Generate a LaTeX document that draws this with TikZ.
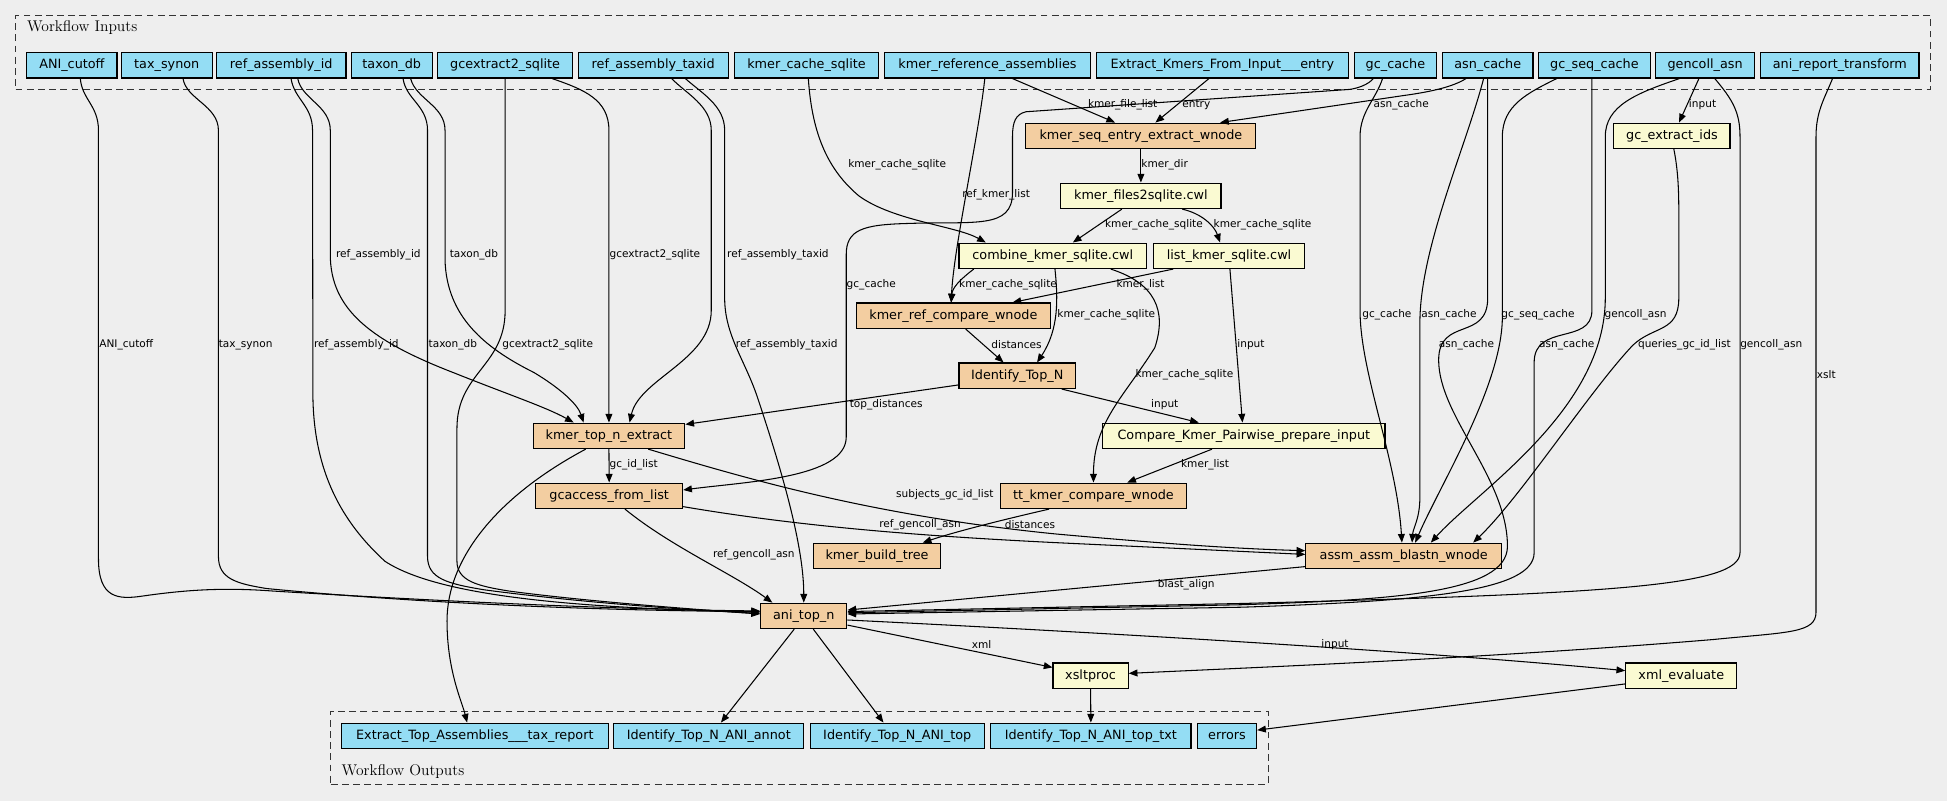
\documentclass[tikz,border=0pt]{standalone}
\usepackage{fontspec}
\newfontfamily\dvs{DejaVu Sans}
\usetikzlibrary{arrows.meta}

\definecolor{bg}{HTML}{EEEEEE}
\definecolor{inblue}{HTML}{94DDF4}
\definecolor{steporange}{HTML}{F3CEA1}
\definecolor{subyellow}{HTML}{FAFAD2}

\tikzset{
  box/.style={draw=black, line width=0.9pt, inner sep=0pt, minimum height=20.5pt,
              font=\dvs\fontsize{10.3}{12}\selectfont},
  io/.style={box, fill=inblue},
  stp/.style={box, fill=steporange},
  sub/.style={box, fill=subyellow},
  cluster/.style={draw=black!80, line width=0.85pt, dash pattern=on 5.5pt off 3.5pt, inner sep=0pt},
  ctitle/.style={font=\fontsize{12.5}{14}\selectfont, inner sep=0pt, anchor=west},
  lbl/.style={font=\dvs\fontsize{8.5}{10}\selectfont, inner sep=0pt, anchor=west},
  edge/.style={draw=black, line width=0.85pt, -{Triangle[length=7pt,width=5.5pt]}},
}

\begin{document}
\begin{tikzpicture}[x=1pt,y=-1pt]
\fill[bg] (0,0) rectangle (1568,645);
\useasboundingbox (0,0) rectangle (1568,645);

% clusters
\node[cluster, minimum width=1542.4pt, minimum height=59.1pt] (cin) at (783.8,42.15) {};
\node[ctitle] (cintitle) at (21.6,22.3) {Workflow Inputs};
\node[cluster, minimum width=754.9pt, minimum height=58.6pt] (cout) at (643.75,602.4) {};
\node[ctitle] (couttitle) at (275,621.5) {Workflow Outputs};

% workflow inputs
\node[io, minimum width=72.6pt]  (in_ani)     at (57.9,52.6)   {ANI\_cutoff};
\node[io, minimum width=73pt]    (in_tax)     at (134.3,52.6)  {tax\_synon};
\node[io, minimum width=104.2pt] (in_refid)   at (226.5,52.6)  {ref\_assembly\_id};
\node[io, minimum width=65pt]    (in_taxdb)   at (315.5,52.6)  {taxon\_db};
\node[io, minimum width=108.9pt] (in_gcx)     at (406.8,52.6)  {gcextract2\_sqlite};
\node[io, minimum width=120.8pt] (in_taxid)   at (526,52.6)    {ref\_assembly\_taxid};
\node[io, minimum width=116pt]   (in_kcache)  at (649.5,52.6)  {kmer\_cache\_sqlite};
\node[io, minimum width=166pt]   (in_kref)    at (795.3,52.6)  {kmer\_reference\_assemblies};
\node[io, minimum width=202.8pt] (in_entry)   at (984.4,52.6)  {Extract\_Kmers\_From\_Input\_\_\_entry};
\node[io, minimum width=66.6pt]  (in_gccache) at (1123.8,52.6) {gc\_cache};
\node[io, minimum width=73pt]    (in_asn)     at (1198.1,52.6) {asn\_cache};
\node[io, minimum width=90pt]    (in_gcseq)   at (1284,52.6)   {gc\_seq\_cache};
\node[io, minimum width=79.3pt]  (in_gencoll) at (1373.2,52.6) {gencoll\_asn};
\node[io, minimum width=127.4pt] (in_xform)   at (1481.7,52.6) {ani\_report\_transform};

% steps
\node[stp, minimum width=185.2pt] (s_extract) at (918.8,109.4)  {kmer\_seq\_entry\_extract\_wnode};
\node[sub, minimum width=93.5pt]  (s_gcids)   at (1346.5,109.4) {gc\_extract\_ids};
\node[sub, minimum width=129pt]   (s_files)   at (918.8,157.7)  {kmer\_files2sqlite.cwl};
\node[sub, minimum width=151pt]   (s_combine) at (847.8,206)    {combine\_kmer\_sqlite.cwl};
\node[sub, minimum width=122.2pt] (s_list)    at (989.8,206)    {list\_kmer\_sqlite.cwl};
\node[stp, minimum width=156.4pt] (s_refcmp)  at (767.8,254.3)  {kmer\_ref\_compare\_wnode};
\node[stp, minimum width=93.8pt]  (s_topn)    at (819.2,302.6)  {Identify\_Top\_N};
\node[stp, minimum width=122.2pt] (s_topext)  at (490.4,351)    {kmer\_top\_n\_extract};
\node[sub, minimum width=227.3pt] (s_prep)    at (1001.7,351)   {Compare\_Kmer\_Pairwise\_prepare\_input};
\node[stp, minimum width=118.3pt] (s_gcacc)   at (490.6,399.3)  {gcaccess\_from\_list};
\node[stp, minimum width=150.3pt] (s_tt)      at (880.6,399.3)  {tt\_kmer\_compare\_wnode};
\node[stp, minimum width=102.5pt] (s_tree)    at (706.3,447.7)  {kmer\_build\_tree};
\node[stp, minimum width=157.7pt] (s_blast)   at (1130.5,447.7) {assm\_assm\_blastn\_wnode};
\node[stp, minimum width=69.5pt]  (s_ani)     at (647.3,496)    {ani\_top\_n};
\node[sub, minimum width=60.5pt]  (s_xslt)    at (878.3,544.2)  {xsltproc};
\node[sub, minimum width=89.5pt]  (s_xmle)    at (1354,544.2)   {xml\_evaluate};

% workflow outputs
\node[io, minimum width=214.7pt] (o_tax)   at (382.4,592.6) {Extract\_Top\_Assemblies\_\_\_tax\_report};
\node[io, minimum width=153pt]   (o_annot) at (570.8,592.6) {Identify\_Top\_N\_ANI\_annot};
\node[io, minimum width=140.2pt] (o_top)   at (722.6,592.6) {Identify\_Top\_N\_ANI\_top};
\node[io, minimum width=161.3pt] (o_txt)   at (878.5,592.6) {Identify\_Top\_N\_ANI\_top\_txt};
\node[io, minimum width=47.8pt]  (o_err)   at (988.1,592.6) {errors};

% inputs running down the left into ani_top_n
\draw[edge] ([xshift=6.8pt]in_ani.south) .. controls (66,80) and (79.3,85) .. (79.3,105) -- (79.3,450)
  .. controls (79.3,482) and (95,483) .. (115,480) .. controls (150,475) and (180,473) .. (220,476)
  .. controls (350,484) and (500,491) .. ([yshift=4pt]s_ani.west);
\draw[edge] ([xshift=13.1pt]in_tax.south) .. controls (150,80) and (175.9,85) .. (175.9,105) -- (175.9,448)
  .. controls (175.9,466) and (190,470) .. (215,474) .. controls (350,487) and (500,492) .. ([yshift=3.5pt]s_ani.west);
\draw[edge] ([xshift=7.9pt]in_refid.south) .. controls (237,80) and (251.7,85) .. (251.7,105) -- (252,320)
  .. controls (253,380) and (275,420) .. (310,452) .. controls (360,485) and (500,490) .. ([yshift=3pt]s_ani.west);
\draw[edge] ([xshift=9.1pt]in_taxdb.south) .. controls (327,80) and (344.3,85) .. (344.3,105) -- (344.3,448)
  .. controls (344.3,466) and (360,470) .. (390,475) .. controls (450,483) and (530,490) .. ([yshift=2pt]s_ani.west);
\draw[edge] (in_gcx.south) -- (406.8,250) .. controls (406.8,295) and (368,300) .. (368,345) -- (368,452)
  .. controls (368,468) and (385,472) .. (410,476) .. controls (470,484) and (550,490) .. ([yshift=1.5pt]s_ani.west);

% inputs into kmer_top_n_extract
\draw[edge] ([xshift=13.3pt]in_refid.south) .. controls (243,80) and (266,85) .. (266,105) -- (266,205)
  .. controls (266,250) and (300,275) .. (366.7,300.7) .. controls (410,318) and (440,328) .. ([xshift=-28.4pt]s_topext.north);
\draw[edge] ([xshift=15.2pt]in_taxdb.south) .. controls (335,80) and (358.4,85) .. (358.4,105) -- (358.4,210)
  .. controls (360,255) and (390,280) .. (430,300) .. controls (450,312) and (465,325) .. ([xshift=-20.4pt]s_topext.north);
\draw[edge] ([xshift=37.9pt]in_gcx.south) .. controls (470,72) and (490.4,80) .. (490.4,105) -- (s_topext.north);
\draw[edge] ([xshift=15pt]in_taxid.south) .. controls (552,75) and (572.8,85) .. (572.8,105) -- (572.8,250)
  .. controls (572.8,290) and (515,305) .. ([xshift=16.6pt]s_topext.north);
\draw[edge] ([xshift=26pt]in_taxid.south) .. controls (565,75) and (583.6,85) .. (583.6,105) -- (583.6,240)
  .. controls (583.6,270) and (600,290) .. (610,320) .. controls (630,380) and (647.3,440) .. (s_ani.north);

% kmer branch
\draw[edge] ([xshift=1.5pt]in_kcache.south) .. controls (654,110) and (668,138) .. (692,158)
  .. controls (720,178) and (770,182) .. ([xshift=-53.9pt]s_combine.north);
\draw[edge] ([xshift=-2.2pt]in_kref.south) .. controls (788,110) and (768,200) .. ([xshift=-1.8pt]s_refcmp.north);
\draw[edge] ([xshift=20.1pt]in_kref.south) -- ([xshift=-20.8pt]s_extract.north);
\draw[edge] ([xshift=-10.8pt]in_entry.south) -- ([xshift=11.7pt]s_extract.north);
\draw[edge] ([xshift=-17.5pt]in_asn.south) .. controls (1170,70) and (1152,74) .. (1130,77) -- ([xshift=63.8pt]s_extract.north);

% gc_cache into gcaccess_from_list
\draw[edge] ([xshift=-17.8pt]in_gccache.south) .. controls (1102,68) and (1094,71) .. (1086.9,72) -- (826.2,90)
  .. controls (818,92) and (815.4,98) .. (815.4,110) -- (815.4,155)
  .. controls (815.4,185) and (785,178) .. (730,180) .. controls (695,181) and (681.5,185) .. (681.5,205)
  -- (681.5,352) .. controls (681.5,385) and (600,388) .. ([yshift=4.7pt]s_gcacc.east);

% caches into assm_assm_blastn_wnode
\draw[edge] ([xshift=-10.4pt]in_gccache.south) .. controls (1108,80) and (1095.3,90) .. (1095.3,110) -- (1095.3,250)
  .. controls (1095.3,300) and (1125,370) .. ([xshift=-1.5pt]s_blast.north);
\draw[edge] ([xshift=-3.3pt]in_asn.south) .. controls (1180,120) and (1143.5,200) .. (1143.5,260) -- (1143.5,400)
  .. controls (1143.5,418) and (1138,425) .. ([xshift=6.7pt]s_blast.north);
\draw[edge] ([xshift=-30.4pt]in_gcseq.south) .. controls (1230,75) and (1209.9,85) .. (1209.9,110) -- (1209.9,255)
  .. controls (1209.9,310) and (1160,390) .. ([xshift=9.2pt]s_blast.north);
\draw[edge] ([xshift=-20.7pt]in_gencoll.south) .. controls (1318,75) and (1292.8,85) .. (1292.8,110) -- (1292.8,240)
  .. controls (1292.8,330) and (1190,395) .. ([xshift=21.8pt]s_blast.north);
\draw[edge] ([xshift=-5pt]in_gencoll.south) -- ([xshift=5.7pt]s_gcids.north);
\draw[edge] ([xshift=1.5pt]s_gcids.south) .. controls (1351,135) and (1352,150) .. (1352,170) -- (1352,240)
  .. controls (1352,268) and (1332,262) .. (1315,278) .. controls (1280,315) and (1225,400) .. ([xshift=55.9pt]s_blast.north);

% inputs running down the right into ani_top_n
\draw[edge] (in_asn.south) -- (1198.1,240) .. controls (1198.1,275) and (1158.6,255) .. (1158.6,290)
  .. controls (1158.6,335) and (1214,385) .. (1214,440) .. controls (1214,478) and (1120,483) .. (1000,487)
  -- ([yshift=2.5pt]s_ani.east);
\draw[edge] ([xshift=-2pt]in_gcseq.south) -- (1282,250) .. controls (1282,278) and (1235.5,260) .. (1235.5,292)
  -- (1235.5,445) .. controls (1235.5,476) and (1150,484) .. (1000,489) -- ([yshift=1.5pt]s_ani.east);
\draw[edge] ([xshift=7.8pt]in_gencoll.south) .. controls (1395,80) and (1401.3,90) .. (1401.3,110) -- (1401.3,445)
  .. controls (1401.3,472) and (1300,478) .. (1000,486) -- ([yshift=3.5pt]s_ani.east);
\draw[edge] ([xshift=-5.9pt]in_xform.south) .. controls (1469,80) and (1462.5,90) .. (1462.5,110) -- (1462.5,493)
  .. controls (1462.5,510) and (1440,509) .. (1380,515) .. controls (1200,530) and (1000,538) .. ([yshift=1.9pt]s_xslt.east);

% step to step
\draw[edge] (s_extract.south) -- (s_files.north);
\draw[edge] ([xshift=-15.3pt]s_files.south) -- ([xshift=16.2pt]s_combine.north);
\draw[edge] ([xshift=33.2pt]s_files.south) .. controls (968,172) and (978,182) .. ([xshift=-7.2pt]s_list.north);
\draw[edge] ([xshift=-63.6pt]s_combine.south) .. controls (772,226) and (767,232) .. ([xshift=-1.8pt]s_refcmp.north);
\draw[edge] ([xshift=-45pt]s_list.south) -- ([xshift=47.6pt]s_refcmp.north);
\draw[edge] ([xshift=1.8pt]s_combine.south) .. controls (852,240) and (853,265) .. ([xshift=16pt]s_topn.north);
\draw[edge] ([xshift=46.7pt]s_combine.south) .. controls (930,228) and (940,250) .. (930,280)
  .. controls (905,320) and (880.6,340) .. (s_tt.north);
\draw[edge] ([xshift=0.7pt]s_list.south) -- ([xshift=-1.1pt]s_prep.north);
\draw[edge] ([xshift=9.9pt]s_refcmp.south) -- ([xshift=-11pt]s_topn.north);
\draw[edge] ([yshift=-7.4pt]s_topn.west) -- ([yshift=-1.5pt]s_topext.north east);
\draw[edge] ([xshift=35.8pt]s_topn.south) -- ([xshift=-36.3pt]s_prep.north);
\draw[edge] ([xshift=-25.6pt]s_prep.south) -- ([xshift=27.2pt]s_tt.north);
\draw[edge] ([xshift=-35.7pt]s_tt.south) .. controls (810,418) and (770,428) .. ([xshift=36.8pt]s_tree.north);
\draw[edge] (s_topext.south) -- (s_gcacc.north);
\draw[edge] ([xshift=31.6pt]s_topext.south) .. controls (600,385) and (700,415) .. (850,430)
  .. controls (950,439) and (1000,442) .. ([yshift=4.2pt]s_blast.west);
\draw[edge] ([yshift=2pt]s_gcacc.south east) .. controls (650,425) and (750,432) .. (850,437) -- ([yshift=1.2pt]s_blast.west);
\draw[edge] ([xshift=12.7pt]s_gcacc.south) .. controls (540,440) and (590,462) .. ([xshift=-25.3pt]s_ani.north);
\draw[edge] ([xshift=-18.7pt]s_topext.south) .. controls (400,400) and (360,450) .. (360,500)
  .. controls (360,540) and (372,565) .. ([xshift=-6.2pt]o_tax.north);
\draw[edge] ([yshift=-8.6pt]s_blast.west) -- ([yshift=4.7pt]s_ani.east);
\draw[edge] ([yshift=-7.4pt]s_ani.east) -- ([yshift=6.7pt]s_xslt.west);
\draw[edge] ([yshift=-3.3pt]s_ani.east) .. controls (900,510) and (1150,525) .. ([yshift=4.1pt]s_xmle.west);
\draw[edge] ([xshift=-7.7pt]s_ani.south) -- ([xshift=9.8pt]o_annot.north);
\draw[edge] ([xshift=7.7pt]s_ani.south) -- ([xshift=-11.1pt]o_top.north);
\draw[edge] (s_xslt.south) -- (o_txt.north);
\draw[edge] ([yshift=-6.6pt]s_xmle.west) -- ([yshift=4.6pt]o_err.east);

% edge labels
\node[lbl] (l01) at (876,84.6)    {kmer\_file\_list};
\node[lbl] (l02) at (952,84.6)    {entry};
\node[lbl] (l03) at (1106,84.6)   {asn\_cache};
\node[lbl] (l04) at (1360,84.6)   {input};
\node[lbl] (l05) at (683,132.3)   {kmer\_cache\_sqlite};
\node[lbl] (l06) at (919,132.3)   {kmer\_dir};
\node[lbl] (l07) at (774.8,157)   {ref\_kmer\_list};
\node[lbl] (l08) at (889.8,181.2) {kmer\_cache\_sqlite};
\node[lbl] (l09) at (977.2,181.2) {kmer\_cache\_sqlite};
\node[lbl] (l10) at (270.4,205.3) {ref\_assembly\_id};
\node[lbl] (l11) at (362,205.3)   {taxon\_db};
\node[lbl] (l12) at (490.7,205.3) {gcextract2\_sqlite};
\node[lbl] (l13) at (585.4,205.3) {ref\_assembly\_taxid};
\node[lbl] (l14) at (681.7,229.5) {gc\_cache};
\node[lbl] (l15) at (772.3,229.5) {kmer\_cache\_sqlite};
\node[lbl] (l16) at (899,229.5)   {kmer\_list};
\node[lbl] (l17) at (851.4,253.7) {kmer\_cache\_sqlite};
\node[lbl] (l18) at (1097,253.4)  {gc\_cache};
\node[lbl] (l19) at (1144.5,253.4){asn\_cache};
\node[lbl] (l20) at (1209,253.4)  {gc\_seq\_cache};
\node[lbl] (l21) at (1292,253.4)  {gencoll\_asn};
\node[lbl] (l22) at (79.8,277.8)  {ANI\_cutoff};
\node[lbl] (l23) at (176,277.8)   {tax\_synon};
\node[lbl] (l24) at (252.7,277.8) {ref\_assembly\_id};
\node[lbl] (l25) at (345,277.8)   {taxon\_db};
\node[lbl] (l26) at (404.4,277.8) {gcextract2\_sqlite};
\node[lbl] (l27) at (592.5,277.8) {ref\_assembly\_taxid};
\node[lbl] (l28) at (798.2,277.8) {distances};
\node[lbl] (l29) at (996.3,277.8) {input};
\node[lbl] (l30) at (1158.6,277.6){asn\_cache};
\node[lbl] (l31) at (1239.4,277.6){asn\_cache};
\node[lbl] (l32) at (1319,277.6)  {queries\_gc\_id\_list};
\node[lbl] (l33) at (1401.3,277.6){gencoll\_asn};
\node[lbl] (l34) at (914.3,302)   {kmer\_cache\_sqlite};
\node[lbl] (l35) at (1463,302)    {xslt};
\node[lbl] (l36) at (684.2,326.2) {top\_distances};
\node[lbl] (l37) at (926.9,326.2) {input};
\node[lbl] (l38) at (490.7,374.5) {gc\_id\_list};
\node[lbl] (l39) at (951,374.5)   {kmer\_list};
\node[lbl] (l40) at (721.5,398.6) {subjects\_gc\_id\_list};
\node[lbl] (l41) at (707.9,422.8) {ref\_gencoll\_asn};
\node[lbl] (l42) at (809,422.8)   {distances};
\node[lbl] (l43) at (574.1,447)   {ref\_gencoll\_asn};
\node[lbl] (l44) at (932.3,471)   {blast\_align};
\node[lbl] (l45) at (782.4,518.9) {xml};
\node[lbl] (l46) at (1064,519.5)  {input};
\end{tikzpicture}
\end{document}
